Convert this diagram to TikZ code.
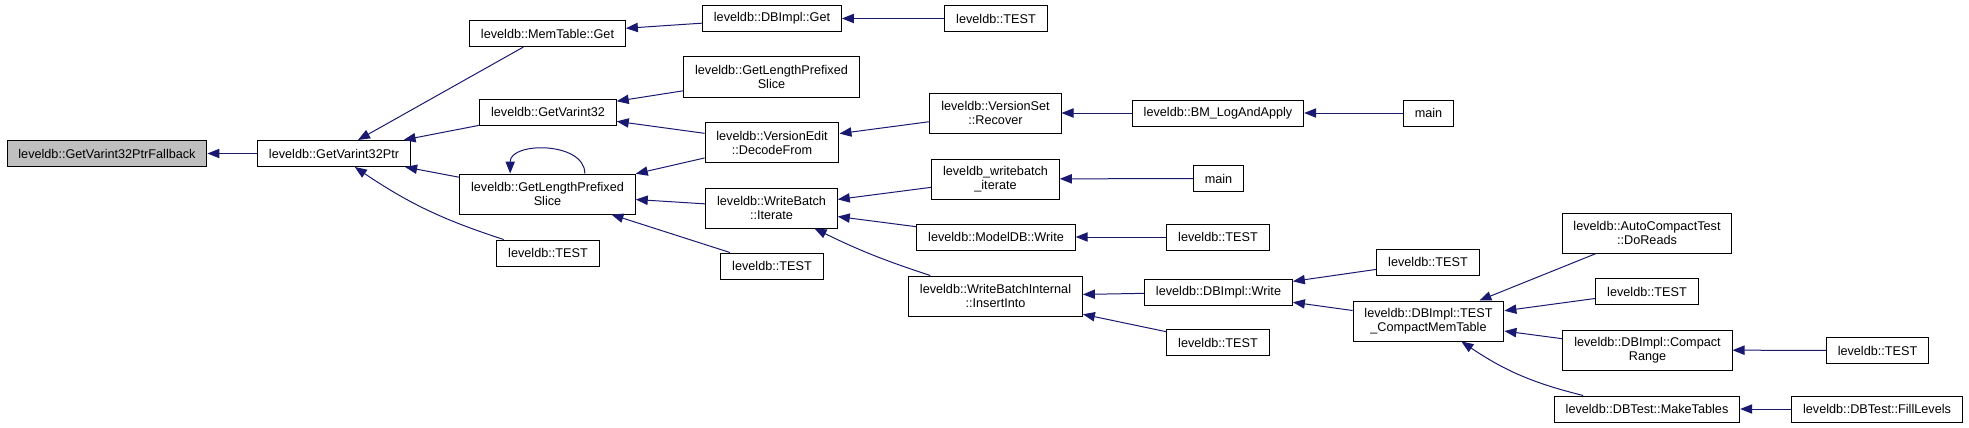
\documentclass[tikz,border=0pt]{standalone}
\usepackage{fontspec}
\setmainfont{Liberation Sans}
\usepackage{xcolor}
\usetikzlibrary{arrows.meta}
\definecolor{edgeblue}{HTML}{191970}
\definecolor{rootgray}{HTML}{BFBFBF}

\begin{document}
\begin{tikzpicture}[x=0.75pt,y=-0.75pt,>={Triangle[length=9pt,width=7pt]},
    fn/.style={draw,line width=0.75pt,fill=white,inner xsep=8.5pt,inner ysep=2pt,
        minimum height=19.5pt,align=center,font=\fontsize{9.5}{10.5}\selectfont},
    fntwo/.style={fn,minimum height=30pt},
    call/.style={<-,draw=edgeblue,line width=0.75pt}]
    \useasboundingbox (0,0) rectangle (1969,428);
    % first columns
    \node[fn,fill=rootgray] (fb) at (107,153.5) {leveldb::GetVarint32PtrFallback};
    \node[fn] (gvp) at (334,153.5) {leveldb::GetVarint32Ptr};
    \node[fn] (mtget) at (547.5,33.5) {leveldb::MemTable::Get};
    \node[fn] (gv32) at (548,112) {leveldb::GetVarint32};
    \node[fntwo] (glps) at (547.5,194) {leveldb::GetLengthPrefixed\\Slice};
    \node[fn] (test1) at (548,253) {leveldb::TEST};
    \node[fn] (dbget) at (772,18.5) {leveldb::DBImpl::Get};
    \node[fn] (test2) at (996,18.5) {leveldb::TEST};
    \node[fntwo] (glps2) at (771.5,77) {leveldb::GetLengthPrefixed\\Slice};
    \node[fntwo] (decode) at (772,142.5) {leveldb::VersionEdit\\::DecodeFrom};
    \node[fntwo] (iterate) at (771.5,208) {leveldb::WriteBatch\\::Iterate};
    \node[fn] (test3) at (772,266) {leveldb::TEST};
    % middle columns
    \node[fntwo] (recover) at (995.5,113) {leveldb::VersionSet\\::Recover};
    \node[fn] (bmlog) at (1218,113) {leveldb::BM\_LogAndApply};
    \node[fn] (main1) at (1428.5,113) {main};
    \node[fntwo] (wbiter) at (995.5,179) {leveldb\_writebatch\\\_iterate};
    \node[fn] (main2) at (1218.5,178.5) {main};
    \node[fn] (modeldb) at (996,237) {leveldb::ModelDB::Write};
    \node[fn] (test4) at (1218,237) {leveldb::TEST};
    \node[fntwo] (insert) at (995.5,296) {leveldb::WriteBatchInternal\\::InsertInto};
    \node[fn] (dbwrite) at (1218.5,292) {leveldb::DBImpl::Write};
    \node[fn] (test5) at (1218,342.5) {leveldb::TEST};
    % right columns
    \node[fn] (test6) at (1428,262) {leveldb::TEST};
    \node[fntwo] (compactmem) at (1428.5,321) {leveldb::DBImpl::TEST\\\_CompactMemTable};
    \node[fntwo] (doreads) at (1647,233) {leveldb::AutoCompactTest\\::DoReads};
    \node[fn] (test7) at (1647,291.5) {leveldb::TEST};
    \node[fntwo] (compactrange) at (1647.5,350) {leveldb::DBImpl::Compact\\Range};
    \node[fn] (test8) at (1877.5,350.5) {leveldb::TEST};
    \node[fn] (maketables) at (1647,409) {leveldb::DBTest::MakeTables};
    \node[fn] (filllevels) at (1877,409) {leveldb::DBTest::FillLevels};
    % callers point back to callees
    \draw[call] (fb) -- (gvp);
    \draw[call] (gvp) -- (mtget);
    \draw[call] (gvp) -- (gv32);
    \draw[call] (gvp) -- (glps);
    \draw[call] (gvp) to[bend right=8] (test1);
    \draw[call] ([xshift=-28pt]glps.north) to[out=90,in=90,looseness=1.1] ([xshift=28pt]glps.north);
    \draw[call] (mtget) -- (dbget);
    \draw[call] (dbget) -- (test2);
    \draw[call] (gv32) -- (glps2);
    \draw[call] (gv32) -- (decode);
    \draw[call] (glps) -- (decode);
    \draw[call] (glps) -- (iterate);
    \draw[call] (glps) -- (test3);
    \draw[call] (decode) -- (recover);
    \draw[call] (recover) -- (bmlog);
    \draw[call] (bmlog) -- (main1);
    \draw[call] (iterate) -- (wbiter);
    \draw[call] (iterate) -- (modeldb);
    \draw[call] (iterate) to[bend right=4] (insert);
    \draw[call] (wbiter) -- (main2);
    \draw[call] (modeldb) -- (test4);
    \draw[call] (insert) -- (dbwrite);
    \draw[call] (insert) -- (test5);
    \draw[call] (dbwrite) -- (test6);
    \draw[call] (dbwrite) -- (compactmem);
    \draw[call] (compactmem) -- (doreads);
    \draw[call] (compactmem) -- (test7);
    \draw[call] (compactmem) -- (compactrange);
    \draw[call] (compactmem) to[bend right=10] (maketables);
    \draw[call] (compactrange) -- (test8);
    \draw[call] (maketables) -- (filllevels);
\end{tikzpicture}
\end{document}
